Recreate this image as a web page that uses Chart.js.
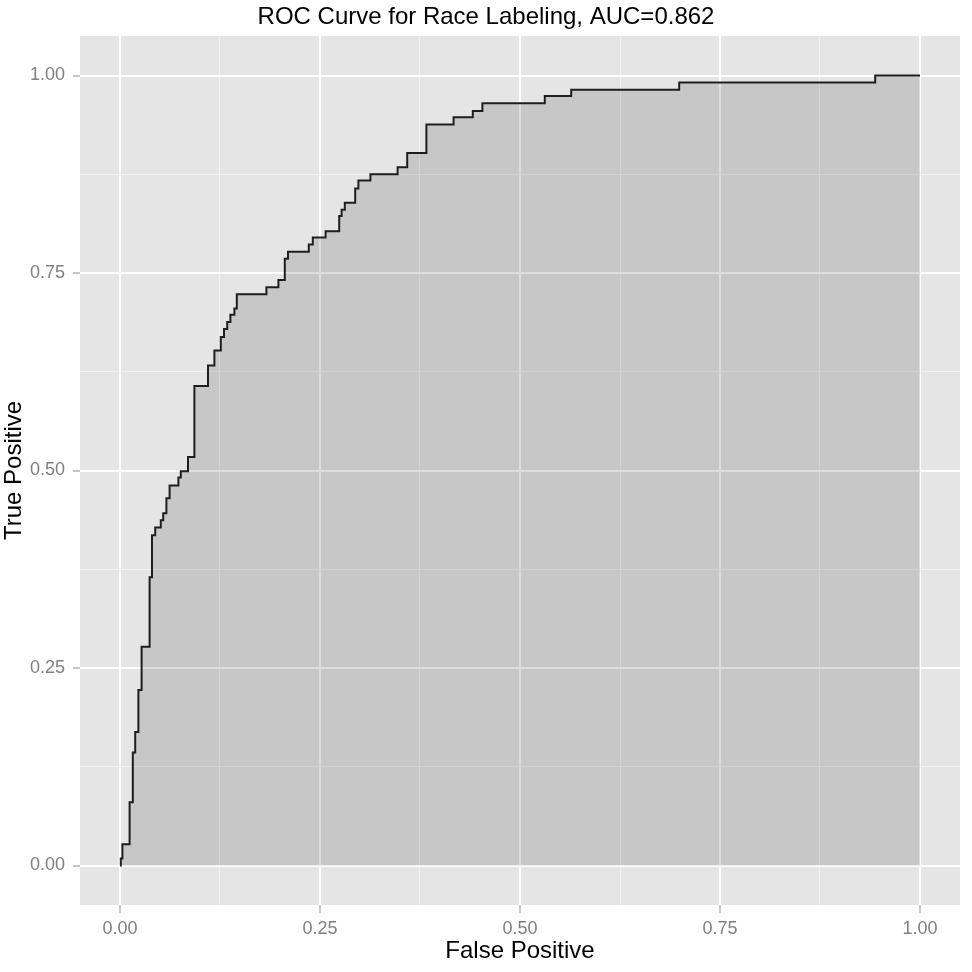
<!DOCTYPE html>
<html>
<head>
<meta charset="utf-8">
<title>ROC Curve for Race Labeling</title>
<script src="https://cdn.jsdelivr.net/npm/chart.js@4.4.1/dist/chart.umd.min.js"></script>
<style>
  html, body { margin: 0; padding: 0; background: #fff; }
  #roc { display: block; }
</style>
</head>
<body>
<canvas id="roc" width="972" height="972"></canvas>
<script>
// corners of the ROC step curve
const falsePositive = [0, 0.001, 0.003, 0.012, 0.016, 0.019, 0.023, 0.027, 0.037, 0.040,
  0.044, 0.051, 0.054, 0.058, 0.062, 0.073, 0.076, 0.085, 0.093, 0.110,
  0.118, 0.126, 0.130, 0.134, 0.138, 0.143, 0.146, 0.183, 0.198, 0.206,
  0.210, 0.236, 0.241, 0.257, 0.274, 0.277, 0.281, 0.294, 0.298, 0.313,
  0.347, 0.359, 0.383, 0.417, 0.441, 0.453, 0.531, 0.564, 0.699, 0.944, 1.0];
const truePositive = [0, 0.009, 0.027, 0.080, 0.143, 0.169, 0.222, 0.277, 0.365, 0.418,
  0.428, 0.437, 0.446, 0.465, 0.481, 0.491, 0.499, 0.517, 0.607, 0.633,
  0.652, 0.669, 0.679, 0.688, 0.697, 0.705, 0.723, 0.732, 0.741, 0.768,
  0.777, 0.786, 0.795, 0.803, 0.822, 0.830, 0.839, 0.857, 0.867, 0.875,
  0.884, 0.902, 0.938, 0.947, 0.955, 0.965, 0.974, 0.982, 0.991, 1.0, 1.0];

// grid lines (major + minor) and the labelled ones
const gridValues = [0, 0.125, 0.25, 0.375, 0.5, 0.625, 0.75, 0.875, 1];
const majorTicks = [0, 0.25, 0.5, 0.75, 1];

Chart.defaults.font.family = "'Liberation Sans', Arial, sans-serif";

function isMajor(v) {
  return majorTicks.some(function(m) { return Math.abs(m - v) < 1e-9; });
}

// grey ggplot-style panel behind the grid
const panelBackground = {
  id: 'panelBackground',
  beforeDraw(chart) {
    const a = chart.chartArea;
    const ctx = chart.ctx;
    ctx.save();
    ctx.fillStyle = '#e5e5e5';
    ctx.fillRect(a.left, a.top, a.width, a.height);
    ctx.restore();
  }
};

function axisOptions(titleText, isX) {
  return {
    type: 'linear',
    min: -0.05,
    max: 1.05,
    afterBuildTicks: function(scale) {
      scale.ticks = gridValues.map(function(v) { return { value: v }; });
    },
    afterFit: function(scale) {
      if (isX) {
        scale.height = 67;
      } else {
        scale.width = 80;
      }
    },
    border: { display: false },
    grid: {
      color: function(ctx) { return ctx.tick && isMajor(ctx.tick.value) ? '#ffffff' : '#f2f2f2'; },
      lineWidth: function(ctx) { return ctx.tick && isMajor(ctx.tick.value) ? 2 : 1; },
      tickColor: function(ctx) { return ctx.tick && isMajor(ctx.tick.value) ? '#8c8c8c' : 'rgba(0,0,0,0)'; },
      tickWidth: 1,
      tickLength: isX ? 8 : 7
    },
    ticks: {
      autoSkip: false,
      maxRotation: 0,
      padding: isX ? 5 : 8,
      color: '#7f7f7f',
      font: { size: 18 },
      callback: function(v) { return isMajor(v) ? v.toFixed(2) : ''; }
    },
    title: {
      display: true,
      text: titleText,
      color: '#000',
      font: { size: 24 },
      padding: isX ? { top: 0, bottom: 6 } : { top: 0, bottom: 0 }
    }
  };
}

const points = falsePositive.map(function(x, i) { return { x: x, y: truePositive[i] }; });

new Chart(document.getElementById('roc'), {
  type: 'line',
  data: {
    datasets: [{
      data: points,
      stepped: 'before',
      borderColor: '#1e1e1e',
      borderWidth: 2,
      pointRadius: 0,
      fill: 'origin',
      backgroundColor: 'rgba(0,0,0,0.13)'
    }]
  },
  options: {
    responsive: false,
    animation: false,
    layout: { padding: 0 },
    scales: {
      x: axisOptions('False Positive', true),
      y: axisOptions('True Positive', false),
      // empty strip on the right so the panel stops short of the edge
      yRight: {
        type: 'linear',
        position: 'right',
        display: true,
        grid: { display: false },
        border: { display: false },
        ticks: { display: false },
        afterFit: function(scale) { scale.width = 12; }
      }
    },
    plugins: {
      legend: { display: false },
      tooltip: { enabled: false },
      title: {
        display: true,
        text: 'ROC Curve for Race Labeling, AUC=0.862',
        color: '#000',
        font: { size: 24, weight: 'normal' },
        padding: { top: 3, bottom: 4.2 }
      }
    }
  },
  plugins: [panelBackground]
});
</script>
</body>
</html>
